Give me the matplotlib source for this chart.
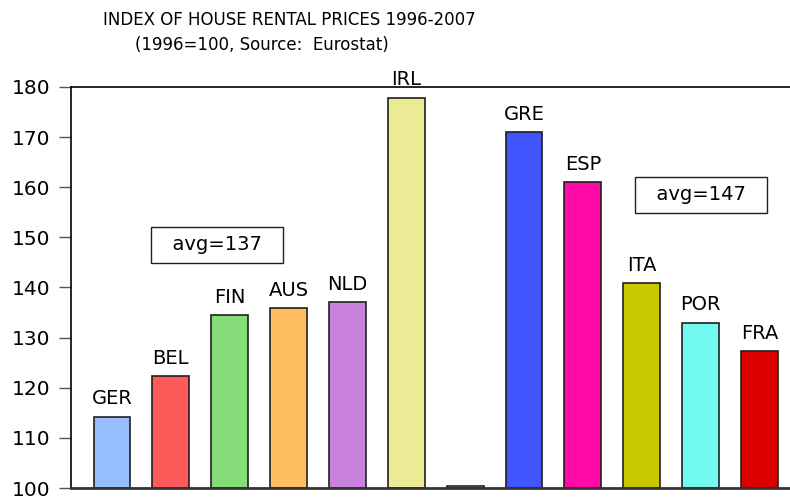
import matplotlib.pyplot as plt

countries = ['GER', 'BEL', 'FIN', 'AUS', 'NLD', 'IRL', '', 'GRE', 'ESP', 'ITA', 'POR', 'FRA']
values = [114.2, 122.3, 134.5, 135.9, 137.1, 177.8, 100.3, 171.0, 161.0, 140.8, 133.0, 127.3]
colors = ['#96BEFF', '#FF5A5A', '#86DC78', '#FFBE5F', '#C882DC', '#EBEB96', '#FFFFFF',
          '#4155FF', '#FF0AA5', '#C8C800', '#73FAF0', '#DC0000']
avg_texts = ['avg=137', 'avg=147']
avg_pos = [(1.78, 148.5), (10.01, 158.5)]
yticks = [100, 110, 120, 130, 140, 150, 160, 170, 180]

plt.rcParams['font.family'] = ['DejaVu Sans']

fig = plt.figure(figsize=(7.9, 4.98), dpi=100)
ax = fig.add_axes([71 / 790, 10 / 498, 1 - 71 / 790, (488 - 87) / 498])

x = list(range(len(values)))
ax.bar(x, [v - 100 for v in values], bottom=100, width=0.625, color=colors,
       edgecolor='#202020', linewidth=1.2)

for xi, v, name in zip(x, values, countries):
    if name:
        ax.text(xi, v + 2.5, name, ha='center', va='baseline', fontsize=14)

for txt, (tx, ty) in zip(avg_texts, avg_pos):
    ax.text(tx, ty, '  ' + txt + '  ', ha='center', va='center', fontsize=14,
            bbox=dict(boxstyle='square,pad=0.45', facecolor='white', edgecolor='#202020', linewidth=1))

ax.set_xlim(-0.697, 11.52)
ax.set_ylim(100, 180)
ax.set_yticks(yticks)
ax.set_xticks([])
ax.tick_params(axis='y', length=9, width=1, pad=6, labelsize=14.5, color='#555555')
for lbl in ax.get_yticklabels():
    lbl.set_verticalalignment('center_baseline')
ax.spines['right'].set_visible(False)
ax.spines['bottom'].set_linewidth(2)
ax.spines['bottom'].set_color('#333333')
ax.spines['top'].set_linewidth(1.2)
ax.spines['left'].set_linewidth(1.2)

fig.text(289 / 790, 1 - 20 / 498, 'INDEX OF HOUSE RENTAL PRICES 1996-2007',
         ha='center', va='center', fontsize=12)
fig.text(262 / 790, 1 - 45 / 498, '(1996=100, Source:  Eurostat)',
         ha='center', va='center', fontsize=12)

fig.savefig('out.png', dpi=100)
